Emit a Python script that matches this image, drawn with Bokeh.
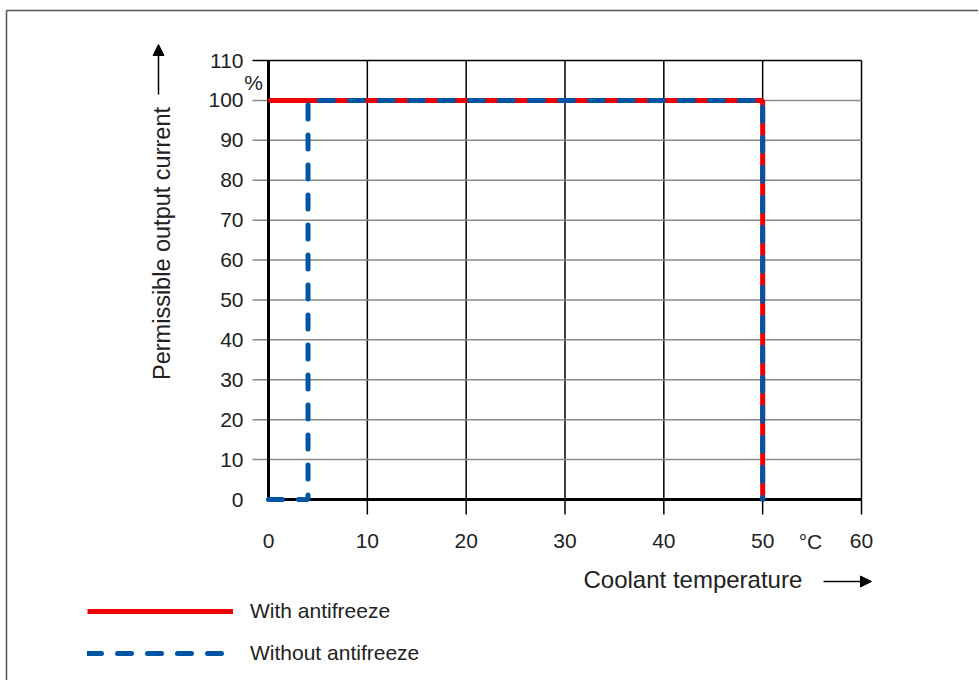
from math import pi
from bokeh.plotting import figure
from bokeh.models import (FixedTicker, Label, Arrow, NormalHead, Legend, LegendItem,
                          LinearAxis, Range1d)
from bokeh.embed import file_html
from bokeh.resources import INLINE

# ---- data ----
with_x = [0, 50, 50]
with_y = [100, 100, 0]
without_x = [0, 4, 4, 50, 50]
without_y = [0, 0, 100, 100, 0]
x_ticks = [0, 10, 20, 30, 40, 50, 60]
y_ticks = [0, 10, 20, 30, 40, 50, 60, 70, 80, 90, 100, 110]
x_title = "Coolant temperature"
y_title = "Permissible output current"
x_unit = "°C"
y_unit = "%"
series_names = ["With antifreeze", "Without antifreeze"]

FONT = "Liberation Sans"
TXT = "#222222"

# ---- layout (canvas pixels) ----
W, H = 978, 680
PX0, PX1 = 268, 861      # pixel of x=0 and x=60
PY0, PY1 = 499, 60       # pixel of y=0 and y=110
X0, X1, Y0, Y1 = x_ticks[0], x_ticks[-1], y_ticks[0], y_ticks[-1]
SX = (PX1 - PX0) / (X1 - X0)
SY = (PY0 - PY1) / (Y1 - Y0)

def dx(px):
    return X0 + (px - PX0) / SX

def dy(py):
    return Y0 + (PY0 - py) / SY

p = figure(width=W, height=H,
           x_range=Range1d(dx(0), dx(W)), y_range=Range1d(dy(H), dy(0)),
           output_backend="svg", toolbar_location=None,
           x_axis_location=None, y_axis_location=None,
           min_border=0)
p.background_fill_color = "white"
p.border_fill_color = "white"
p.outline_line_color = None
p.xgrid.visible = False
p.ygrid.visible = False

# grid lines (extend beyond the axes like tick marks)
vx = x_ticks[1:]
p.segment(x0=vx, y0=[dy(514)] * len(vx), x1=vx, y1=[Y1] * len(vx),
          line_color="black", line_width=1.5)
hy = y_ticks[1:-1]
p.segment(x0=[dx(252)] * len(hy), y0=hy, x1=[X1] * len(hy), y1=hy,
          line_color="#8a8a8a", line_width=1.5)
p.segment(x0=[dx(252)], y0=y_ticks[-1:], x1=[X1], y1=y_ticks[-1:],
          line_color="black", line_width=1.5)

# axes placed at the data origin
xax = LinearAxis(fixed_location=Y0, bounds=(X0, X1), ticker=FixedTicker(ticks=x_ticks),
                 axis_line_width=3, axis_line_color="black",
                 major_tick_out=0, major_tick_in=0, minor_tick_line_color=None,
                 major_label_text_font_size="21px", major_label_text_font=FONT,
                 major_label_text_color=TXT, major_label_standoff=34)
yax = LinearAxis(fixed_location=X0, bounds=(Y0, Y1), ticker=FixedTicker(ticks=y_ticks),
                 axis_line_width=3, axis_line_color="black",
                 major_tick_out=0, major_tick_in=0, minor_tick_line_color=None,
                 major_label_text_font_size="21px", major_label_text_font=FONT,
                 major_label_text_color=TXT, major_label_standoff=25)
p.add_layout(xax, "below")
p.add_layout(yax, "left")

# series (drawn above the axis lines)
r_with = p.line(with_x, with_y, line_color="#f00000", line_width=5, level="overlay")
r_without = p.line(without_x, without_y, line_color="#0055a5", line_width=5,
                   line_dash="14 16", line_cap="round", level="overlay")

# units
p.add_layout(Label(x=dx(253), y=dy(82), text=y_unit, text_align="center",
                   text_baseline="middle", text_font_size="21px",
                   text_font=FONT, text_color=TXT))
p.add_layout(Label(x=dx(810), y=dy(541), text=x_unit, text_align="center",
                   text_baseline="middle", text_font_size="21px",
                   text_font=FONT, text_color=TXT))

# axis titles with arrows
p.add_layout(Label(x=dx(583), y=dy(579), text=x_title, text_align="left",
                   text_baseline="middle", text_font_size="24px",
                   text_font=FONT, text_color=TXT))
p.add_layout(Arrow(x_start=dx(823), y_start=dy(581), x_end=dx(871), y_end=dy(581),
                   line_width=1.5, line_color="black",
                   end=NormalHead(size=11, fill_color="black", line_color="black")))
p.add_layout(Label(x=dx(161), y=dy(243), text=y_title, angle=pi / 2,
                   text_align="center", text_baseline="middle",
                   text_font_size="23.5px", text_font=FONT, text_color=TXT))
p.add_layout(Arrow(x_start=dx(158), y_start=dy(94), x_end=dx(158), y_end=dy(44),
                   line_width=1.5, line_color="black",
                   end=NormalHead(size=11, fill_color="black", line_color="black")))

# page frame (top and left border lines)
p.segment(x0=[dx(6), dx(6)], y0=[dy(10), dy(10)], x1=[dx(W + 5), dx(6)],
          y1=[dy(10), dy(H + 5)], line_color="#555555", line_width=1.5)

# legend
legend = Legend(items=[LegendItem(label=series_names[0], renderers=[r_with]),
                       LegendItem(label=series_names[1], renderers=[r_without])],
                location=(87, H - 665),
                glyph_width=146, glyph_height=20, label_height=20,
                label_standoff=17, spacing=18, padding=0, margin=0,
                label_text_font_size="21px", label_text_font=FONT,
                label_text_color=TXT, border_line_alpha=0,
                background_fill_alpha=0)
p.add_layout(legend, "center")

open("out.html", "w").write(file_html(p, INLINE))
